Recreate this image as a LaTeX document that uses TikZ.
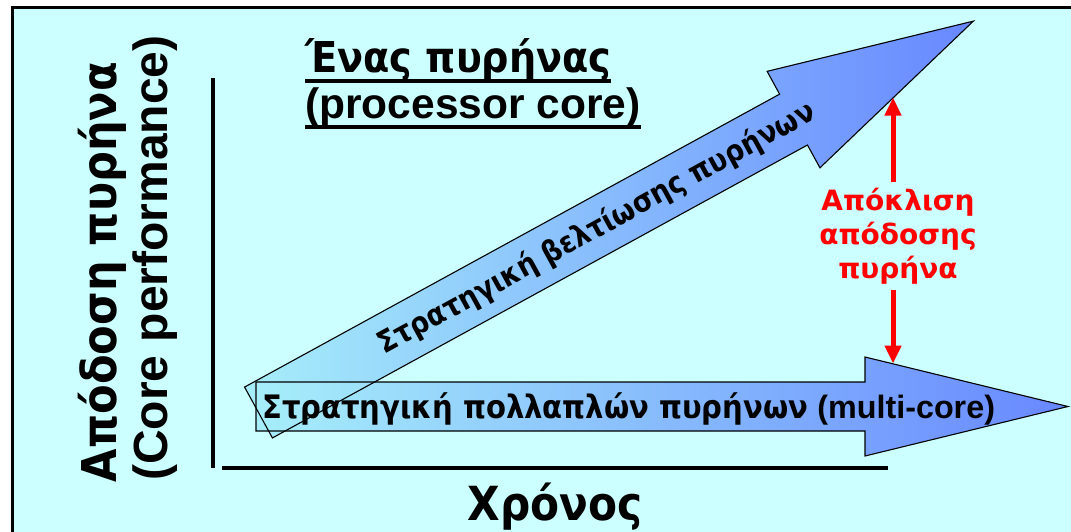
\documentclass[tikz,border=0pt]{standalone}
\usepackage{fontspec}
\setmainfont{Liberation Sans}
\newfontfamily\grk{DejaVu Sans Condensed}
\newfontfamily\dejavu{DejaVu Sans}
\newfontfamily\dejavucond{DejaVu Sans Condensed}
\usetikzlibrary{arrows.meta}
\definecolor{panel}{RGB}{204,255,255}
\definecolor{arrowlight}{RGB}{166,238,250}
\definecolor{arrowdark}{RGB}{104,136,255}
% thick underline placed a fixed distance below the baseline
\newcommand\thickul[1]{\setbox0=\hbox{#1}\rlap{\vrule height -6.5pt depth 10.8pt width \wd0}\box0}
\newcommand\fsz[1]{\fontsize{#1}{#1}\selectfont}

\begin{document}
\begin{tikzpicture}[x=1pt,y=-1pt,
  bigarrow/.style={left color=arrowlight, right color=arrowdark},
  outline/.style={draw=black, line width=1.1, line join=miter},
  axis/.style={line width=3.2},
  gap/.style={draw=red, line width=5, -{Triangle[width=16,length=18]}},
  txt/.style={inner sep=0pt}]
\useasboundingbox (0,0) rectangle (1071,531);
\clip (0,0) rectangle (1071,531);
\fill[white] (0,0) rectangle (1071,531);
\draw[line width=3, fill=panel] (12.5,7.5) rectangle (1090,545);

% arrow outlines (shared by fill and stroke)
\def\upperarrow{(0,-29) -- (610,-29) -- (610,-55) -- (815,0) -- (610,55) -- (610,29) -- (0,29) -- cycle}
\def\lowerarrow{(256,382) -- (865,382) -- (865,357) -- (1068,406.5) -- (865,456) -- (865,431) -- (256,431) -- cycle}

% fills
\begin{scope}[shift={(258.5,412.5)}, rotate=28.7]
  \path[bigarrow] \upperarrow;
\end{scope}
\path[bigarrow] \lowerarrow;

% strokes on top of both fills
\begin{scope}[shift={(258.5,412.5)}, rotate=28.7]
  \draw[outline] \upperarrow;
  \node[txt, anchor=base, rotate=28.7, font=\dejavucond\bfseries\fsz{30}] (single) at (385,10)
    {Στρατηγική βελτίωσης πυρήνων};
\end{scope}
\draw[outline] \lowerarrow;

% axes
\coordinate (yTop) at (213,78);
\coordinate (yBot) at (213,468);
\coordinate (xL) at (222,468);
\coordinate (xR) at (888,468);
\draw[axis] (yTop) -- (yBot);
\draw[axis] (xL) -- (xR);

% labels (Greek runs in DejaVu Sans Condensed Bold, Latin runs in Liberation Sans Bold)
\node[txt, anchor=base west, font=\bfseries\fsz{32.3}] (multi) at (262,418)
  {{\grk Στρατηγική πολλαπλών πυρήνων} (multi-core)};
\node[txt, anchor=base west, font=\grk\bfseries\fsz{42.5}] (t1) at (305,72) {\thickul{Ένας πυρήνας}};
\node[txt, anchor=base west, font=\bfseries\fsz{42.5}] (t2) at (305,118) {\thickul{(processor core)}};
\node[txt, rotate=90, anchor=base, font=\grk\bfseries\fsz{48}] (ylab1) at (116,272) {Απόδοση πυρήνα};
\node[txt, rotate=90, anchor=base, font=\bfseries\fsz{48}] (ylab2) at (167,258) {(Core performance)};
\node[txt, anchor=base, font=\dejavucond\bfseries\fsz{47}] (xlab) at (555,520) {Χρόνος};

% performance gap
\node[inner sep=6pt, align=center, text=red, font=\dejavu\bfseries\fontsize{28}{34}\selectfont]
  (gaplbl) at (898,236) {Απόκλιση\\απόδοσης\\πυρήνα};
\coordinate (hitU) at (893,97.5);
\coordinate (hitL) at (893,363.5);
\draw[gap] (gaplbl.north -| hitU) -- (hitU);
\draw[gap] (gaplbl.south -| hitL) -- (hitL);
\end{tikzpicture}
\end{document}
